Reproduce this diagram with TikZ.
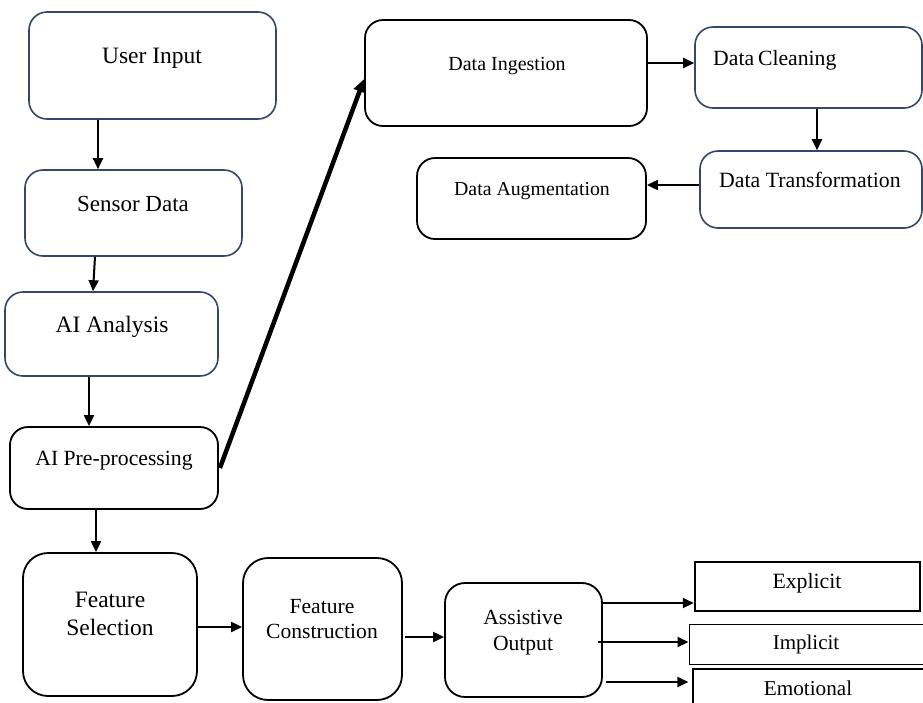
\documentclass[tikz,border=0pt]{standalone}
\usepackage{fontspec}
\setmainfont{Liberation Serif}
\usetikzlibrary{arrows.meta}
\definecolor{bordblue}{HTML}{34476A}
\begin{document}
\begin{tikzpicture}[x=1pt,y=-1pt,
 box/.style={draw, rounded corners=18pt, line width=1.6pt, inner sep=0pt, fill=white},
 bluebox/.style={box, draw=bordblue},
 blackbox/.style={box, draw=black, line width=1.8pt},
 sqbox/.style={draw=black, inner sep=0pt, fill=white},
 lbl/.style={inner sep=0pt, text=black, align=center},
 arr/.style={-{Triangle[length=11pt,width=10pt]}, line width=2pt},
 bigarr/.style={-{Triangle[length=13pt,width=12pt]}, line width=4.5pt},
]
\useasboundingbox (0,0) rectangle (923,702);
\clip (0,0) rectangle (923,702);

% boxes
\node[bluebox, minimum width=247pt, minimum height=107pt] (ui) at (152.5,65.5) {};
\node[bluebox, minimum width=217pt, minimum height=86pt] (sd) at (133.5,213) {};
\node[bluebox, minimum width=213pt, minimum height=84pt] (aa) at (111.5,334) {};
\node[blackbox, minimum width=208pt, minimum height=82pt] (ap) at (114,468) {};
\node[blackbox, minimum width=282pt, minimum height=106pt] (di) at (506,73) {};
\node[bluebox, minimum width=227pt, minimum height=81pt] (dc) at (808.5,67.5) {};
\node[bluebox, minimum width=222pt, minimum height=77pt] (dt) at (811,189.5) {};
\node[blackbox, minimum width=229pt, minimum height=81pt] (da) at (531.5,198.5) {};
\node[blackbox, rounded corners=25pt, minimum width=174pt, minimum height=143pt] (fs) at (110,624.5) {};
\node[blackbox, rounded corners=25pt, minimum width=159pt, minimum height=142pt] (fc) at (322.5,629) {};
\node[blackbox, rounded corners=20pt, minimum width=157pt, minimum height=114pt] (ao) at (523.5,640) {};
\node[sqbox, line width=2.5pt, minimum width=225pt, minimum height=49pt] (ex) at (807.5,586.5) {};
\node[sqbox, line width=1pt, minimum width=237pt, minimum height=40pt] (im) at (807.5,644) {};
\node[sqbox, line width=1.2pt, minimum width=233pt, minimum height=43pt] (em) at (809.5,690.5) {};

% texts
\node[lbl, anchor=base, font=\fontsize{23.5}{27}\selectfont] (tui) at (152,63.3) {User Input};
\node[lbl, anchor=base, font=\fontsize{23}{27}\selectfont] (tsd) at (133,211.7) {Sensor Data};
\node[lbl, anchor=base, font=\fontsize{23.5}{27}\selectfont] (taa) at (112,332.7) {AI Analysis};
\node[lbl, anchor=base, font=\fontsize{21.7}{25}\selectfont] (tap) at (114,465) {AI Pre-processing};
\node[lbl, anchor=base, font=\fontsize{20}{24}\selectfont] (tdi) at (507,70) {Data Ingestion};
\node[lbl, anchor=base west, font=\fontsize{21.7}{25}\selectfont] (tdc) at (713,65) {Data\hspace{-1.5pt} Cleaning};
\node[lbl, anchor=base west, font=\fontsize{21.8}{25}\selectfont] (tdt) at (719,187.3) {Data Transformation};
\node[lbl, anchor=base, font=\fontsize{19.8}{24}\selectfont] (tda) at (532,195) {Data Augmentation};
\node[lbl, font=\fontsize{23.5}{27.4}\selectfont] (tfs) at (110,614) {Feature\\Selection};
\node[lbl, font=\fontsize{21.6}{25.3}\selectfont] (tfc) at (322,619.3) {Feature\\Construction};
\node[lbl, font=\fontsize{21.6}{26}\selectfont] (tao) at (523,632.2) {Assistive\\Output};
\node[lbl, anchor=base, font=\fontsize{21.8}{25}\selectfont] (tex) at (807,588.3) {Explicit};
\node[lbl, anchor=base, font=\fontsize{21}{25}\selectfont] (tim) at (806,649) {Implicit};
\node[lbl, anchor=base, font=\fontsize{21.2}{25}\selectfont] (tem) at (808,695) {Emotional};

% connectors
\draw[arr] (ui.south -| 98,0) -- (sd.north -| 98,0);
\draw[arr] (sd.south -| 95,0) -- (aa.north -| 93,0);
\draw[arr] (aa.south -| 89,0) -- (ap.north -| 89,0);
\draw[arr] (ap.south -| 96,0) -- (fs.north -| 96,0);
\draw[bigarr] ([xshift=1pt]ap.east) -- (di.west |- 0,79);
\draw[arr] (di.east |- 0,63) -- (dc.west |- 0,63);
\draw[arr] (dc.south -| 817,0) -- (dt.north -| 817,0);
\draw[arr] (dt.west |- 0,185) -- (da.east |- 0,185);
\draw[arr] (fs.east |- 0,627) -- (fc.west |- 0,627);
\draw[arr] ([xshift=2pt]fc.east |- 0,637) -- (ao.west |- 0,637);
\draw[arr] (ao.east |- 0,603) -- (ex.west |- 0,603);
\draw[arr] ([xshift=-5pt]ao.east |- 0,642) -- (im.west |- 0,642);
\draw[arr] ([xshift=3pt]ao.east |- 0,682) -- ([xshift=-4pt]em.west |- 0,682);
\end{tikzpicture}
\end{document}
